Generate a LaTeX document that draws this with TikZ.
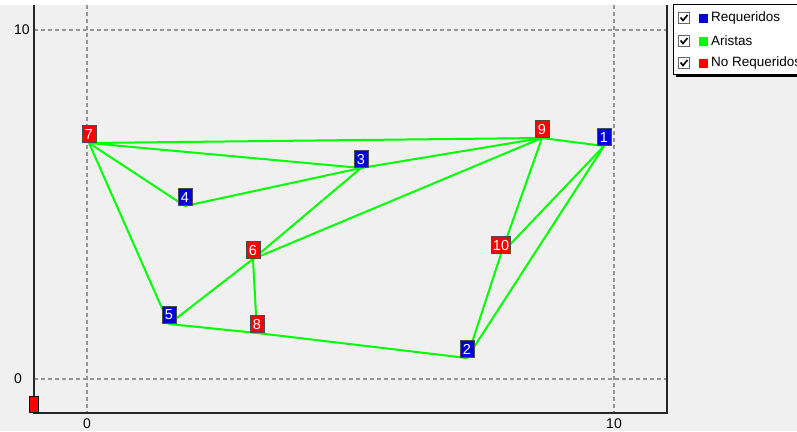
\documentclass[tikz,border=0pt]{standalone}
\usepackage{fontspec}
\setmainfont{Liberation Sans}
\definecolor{panel}{HTML}{F0F0F0}
\definecolor{gridgray}{HTML}{959595}
\definecolor{edgegreen}{HTML}{00FF00}
\definecolor{reqblue}{HTML}{0000D8}
\definecolor{noreqred}{HTML}{FF0000}
\begin{document}
\begin{tikzpicture}[x=1pt,y=-1pt,
  gridline/.style={draw=gridgray,line width=1.2,dash pattern=on 4pt off 3pt},
  axisline/.style={draw=black!85,line width=1.4},
  edge/.style={draw=edgegreen,line width=2},
  vlabel/.style={draw=black!70,line width=0.9,minimum width=14,minimum height=17,
    inner sep=1,text=white,font=\fontsize{14.5}{14.5}\selectfont,anchor=south},
  req/.style={vlabel,fill=reqblue},
  noreq/.style={vlabel,fill=noreqred},
  ticklabel/.style={font=\fontsize{14}{14}\selectfont,inner sep=0},
  legtext/.style={font=\fontsize{13.5}{14}\selectfont,anchor=west,inner sep=0},
  checkbox/.style={draw=black!60,fill=white,line width=1,minimum size=11,inner sep=0},
  checkmark/.style={draw=black,line width=1.6},
  swatch/.style={minimum size=9,inner sep=0}]
\useasboundingbox (0,0) rectangle (797,431);
\clip (0,0) rectangle (797,431);
% background
\fill[white] (0,0) rectangle (797,431);
\fill[panel] (0,5) rectangle (797,431);

% grid
\draw[gridline] (34,30) -- (667,30);
\draw[gridline] (34,379) -- (667,379);
\draw[gridline] (87,5) -- (87,413);
\draw[gridline] (614,5) -- (614,413);

% frame
\draw[axisline] (34,5) -- (34,413) -- (667,413) -- (667,5);

% axis labels
\node[ticklabel,anchor=west] (y10) at (14,30) {10};
\node[ticklabel,anchor=west] (y0) at (14,379) {0};
\node[ticklabel,anchor=north] (x0) at (87,419) {0};
\node[ticklabel,anchor=north] (x10) at (614,419) {10};

% marker at origin of the axis
\node[draw=black,fill=noreqred,line width=0.8,minimum width=9,minimum height=16,inner sep=0,anchor=south] (mk) at (33.5,413) {};

% vertex points
\coordinate (v1) at (604,146);
\coordinate (v2) at (467,358);
\coordinate (v3) at (361,168);
\coordinate (v4) at (185,206);
\coordinate (v5) at (169,324);
\coordinate (v6) at (253,259);
\coordinate (v7) at (89,143);
\coordinate (v8) at (257,333);
\coordinate (v9) at (542,138);
\coordinate (v10) at (501,254);

% edges
\draw[edge] (v7) -- (v9);
\draw[edge] (v7) -- (v3);
\draw[edge] (v7) -- (v4);
\draw[edge] (v7) -- (v5);
\draw[edge] (v4) -- (v3);
\draw[edge] (v3) -- (v9);
\draw[edge] (v3) -- (v6);
\draw[edge] (v6) -- (v9);
\draw[edge] (v6) -- (v5);
\draw[edge] (v6) -- (v8);
\draw[edge] (v5) -- (v8);
\draw[edge] (v8) -- (v2);
\draw[edge] (v9) -- (v1);
\draw[edge] (v9) -- (v10);
\draw[edge] (v10) -- (v2);
\draw[edge] (v1) -- (v10);
\draw[edge] (v1) -- (v2);

% vertex labels
\node[req]   (l1)  at (v1)  {1};
\node[req]   (l2)  at (v2)  {2};
\node[req]   (l3)  at (v3)  {3};
\node[req]   (l4)  at (v4)  {4};
\node[req]   (l5)  at (v5)  {5};
\node[noreq] (l6)  at (v6)  {6};
\node[noreq] (l7)  at (v7)  {7};
\node[noreq] (l8)  at (v8)  {8};
\node[noreq] (l9)  at (v9)  {9};
\node[noreq] (l10) at (v10) {10};

% legend
\fill[black] (676,72) rectangle (800,77);
\draw[black,fill=white,line width=1] (673,4) rectangle (800,74);
\foreach \i/\c/\t/\yy in {a/reqblue/Requeridos/18,b/edgegreen/Aristas/41,c/noreqred/No Requeridos/63}{
  \node[checkbox] (cb\i) at (684,\yy) {};
  \draw[checkmark] ([shift={(-3.5,-0.5)}]cb\i.center) -- ([shift={(-1,2.5)}]cb\i.center) -- ([shift={(3.5,-3)}]cb\i.center);
  \node[swatch,fill=\c] (sw\i) at (703,\yy) {};
  \node[legtext] (lt\i) at (711,\yy) {\t};
}
\end{tikzpicture}
\end{document}
